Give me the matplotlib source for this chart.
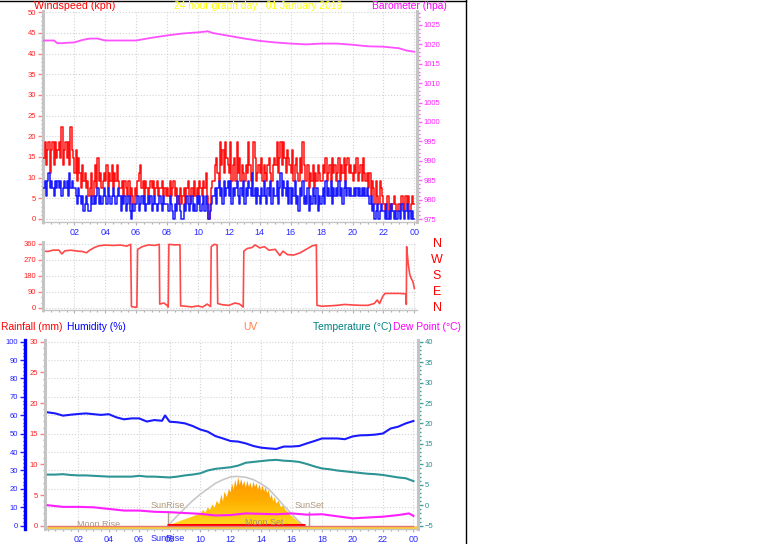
import numpy as np
import matplotlib
matplotlib.use("Agg")
import matplotlib.pyplot as plt
import matplotlib.transforms as mtransforms
from matplotlib.lines import Line2D
from matplotlib.ticker import MultipleLocator
from matplotlib.colors import LinearSegmentedColormap

plt.rcParams["font.family"] = ["Liberation Sans", "DejaVu Sans"]

W, H = 761, 544
KT_TO_KPH = 1.852

# ------------------------------------------------------------------
# wind speed, 5 minute samples (knots, station resolution)
# ------------------------------------------------------------------
gust_kt = [
    8, 10, 7, 9, 10, 6, 9, 10, 7, 10, 8, 9,
    10, 8, 12, 7, 9, 10, 8, 10, 7, 12, 9, 8,
    6, 9, 5, 8, 6, 4, 7, 5, 6, 4, 5, 3,
    4, 6, 3, 5, 7, 4, 8, 5, 6, 4, 5, 6,
    5, 7, 4, 6, 5, 7, 4, 6, 5, 7, 5, 4,
    4, 5, 3, 5, 4, 3, 5, 2, 4, 3, 2, 4,
    3, 5, 6, 7, 4, 5, 3, 5, 4, 3, 4, 5,
    4, 5, 3, 4, 5, 3, 4, 4, 5, 3, 4, 3,
    4, 3, 5, 3, 4, 5, 3, 4, 2, 3, 4, 2,
    3, 4, 2, 4, 5, 3, 2, 4, 3, 5, 3, 4,
    3, 5, 4, 3, 5, 4, 6, 3, 0, 2, 4, 5,
    5, 7, 8, 6, 5, 10, 7, 9, 6, 10, 8, 7,
    6, 10, 5, 7, 8, 5, 10, 6, 8, 5, 7, 6,
    5, 7, 6, 10, 7, 5, 6, 10, 8, 5, 6, 7,
    6, 8, 5, 7, 6, 5, 7, 8, 6, 5, 7, 8,
    7, 10, 6, 8, 10, 7, 10, 8, 6, 9, 8, 7,
    6, 9, 5, 7, 8, 6, 5, 8, 6, 10, 7, 5,
    5, 7, 4, 6, 5, 7, 4, 6, 5, 7, 6, 5,
    5, 7, 6, 8, 5, 6, 7, 5, 8, 6, 7, 5,
    6, 8, 5, 7, 6, 8, 5, 7, 8, 6, 7, 6,
    5, 7, 6, 8, 5, 6, 7, 5, 8, 6, 5, 6,
    4, 6, 3, 5, 4, 2, 5, 3, 2, 5, 4, 3,
    2, 1, 2, 3, 1, 2, 1, 2, 3, 2, 1, 2,
    2, 1, 3, 2, 1, 3, 2, 3, 1, 2, 3, 2,
    2,
]
avg_kt = [
    4, 5, 3, 5, 6, 4, 5, 4, 3, 5, 4, 5,
    4, 5, 3, 4, 5, 4, 5, 3, 6, 4, 5, 4,
    4, 3, 2, 4, 3, 2, 3, 1, 2, 3, 2, 1,
    1, 3, 2, 3, 2, 3, 4, 2, 3, 2, 3, 4,
    3, 2, 4, 3, 2, 3, 4, 3, 2, 3, 4, 3,
    1, 3, 2, 3, 1, 2, 3, 1, 0, 2, 1, 2,
    2, 3, 1, 2, 3, 2, 3, 1, 2, 3, 2, 3,
    1, 2, 3, 2, 1, 2, 3, 2, 1, 3, 2, 2,
    2, 1, 3, 2, 1, 0, 2, 1, 3, 2, 1, 0,
    0, 2, 1, 3, 2, 1, 2, 3, 1, 2, 1, 3,
    2, 3, 1, 2, 3, 1, 3, 2, 0, 1, 2, 3,
    3, 4, 2, 4, 5, 3, 4, 2, 5, 3, 4, 5,
    3, 5, 2, 4, 3, 4, 5, 3, 2, 4, 3, 5,
    2, 4, 3, 5, 4, 3, 6, 3, 4, 2, 4, 3,
    2, 4, 3, 5, 3, 2, 4, 3, 5, 2, 4, 3,
    3, 5, 2, 4, 6, 3, 5, 4, 3, 5, 2, 4,
    2, 4, 3, 5, 2, 3, 1, 4, 3, 5, 2, 3,
    2, 4, 1, 3, 2, 4, 3, 2, 4, 1, 3, 2,
    3, 4, 2, 5, 3, 4, 3, 5, 2, 4, 3, 4,
    3, 5, 3, 4, 2, 4, 5, 3, 4, 3, 4, 3,
    3, 4, 3, 4, 3, 4, 3, 4, 3, 4, 3, 4,
    3, 2, 3, 1, 2, 0, 1, 2, 0, 1, 2, 1,
    1, 0, 2, 0, 1, 0, 2, 1, 0, 1, 0, 1,
    1, 0, 2, 1, 0, 1, 2, 0, 1, 0, 1, 0,
    0,
]

baro_t = [0, 0.7, 0.9, 1.2, 1.5, 2, 2.5, 3, 3.5, 4, 5, 6, 7, 8, 9, 10, 10.5,
          10.6, 11, 12, 13, 14, 15, 16, 17, 18, 19, 20, 21, 22, 23, 23.5, 24]
baro_hpa = [1021.0, 1021.0, 1020.3, 1020.3, 1020.4, 1020.5, 1021.1, 1021.5,
            1021.5, 1021.0, 1021.0, 1021.0, 1021.7, 1022.3, 1022.8, 1023.1,
            1023.3, 1023.4, 1022.9, 1022.2, 1021.5, 1020.9, 1020.5, 1020.2,
            1020.0, 1020.2, 1020.2, 1019.9, 1019.5, 1019.4, 1019.0, 1018.4,
            1018.1]

dir_t = [0.0, 0.3, 0.6, 1.0, 1.2, 1.4, 1.8, 2.2, 2.5, 2.8, 3.0, 3.3, 3.6,
         4.0, 4.5, 5.0, 5.4, 5.65, 5.7, 5.9, 6.05, 6.1, 6.4, 6.8, 7.2, 7.5,
         7.53, 7.8, 8.0, 8.08, 8.12, 8.5, 8.84, 8.88, 9.2, 9.6, 10.0, 10.3,
         10.6, 10.82, 10.86, 11.05, 11.24, 11.28, 11.6, 12.0, 12.4, 12.7,
         12.93, 12.97, 13.2, 13.5, 13.7, 14.0, 14.3, 14.6, 15.0, 15.3, 15.5,
         15.8, 16.2, 16.6, 17.0, 17.4, 17.66, 17.7, 18.0, 18.5, 19.0, 19.5,
         20.0, 20.5, 21.0, 21.4, 21.6, 21.75, 21.95, 22.1, 22.5, 23.0, 23.45,
         23.48, 23.5, 23.6, 23.7, 23.8, 23.9, 24.0]
dir_deg = [320, 318, 325, 326, 304, 322, 325, 320, 318, 311, 325, 340, 350,
           354, 352, 354, 348, 358, 8, 5, 4, 330, 345, 355, 352, 358,
           22, 28, 15, 5, 358, 355, 356, 12, 10, 6, 12, 5,
           22, 8, 345, 358, 355, 25, 18, 15, 28, 22,
           5, 320, 335, 340, 355, 338, 345, 325, 330, 295, 320,
           300, 298, 310, 330, 350, 355, 15, 10, 12, 15, 20,
           17, 15, 15, 25, 45, 25, 65, 82, 82, 82, 80,
           20, 345, 250, 190, 165, 150, 110]
dir_letters = ["N", "W", "S", "E", "N"]
dir_letter_deg = [360, 270, 180, 90, 0]

# ------------------------------------------------------------------
# bottom panel
# ------------------------------------------------------------------
hum_t = [0, 0.5, 1, 1.5, 2, 2.5, 3, 3.5, 4, 4.5, 5, 5.5, 6, 6.5, 7, 7.5,
         7.7, 8, 8.5, 9, 9.5, 10, 10.5, 11, 11.5, 12, 12.5, 13, 13.5, 14,
         14.5, 15, 15.5, 16, 16.5, 17, 17.5, 18, 18.5, 19, 19.5, 20, 20.5,
         21, 21.5, 22, 22.5, 23, 23.5, 24]
hum_pct = [61.6, 61.0, 59.8, 60.3, 60.7, 61.0, 60.6, 60.2, 60.6, 58.9, 57.8,
           58.3, 58.3, 56.6, 57.4, 57.0, 59.9, 56.5, 56.2, 55.6, 54.2, 52.3,
           51.1, 48.7, 47.4, 46.0, 45.7, 44.7, 43.3, 42.4, 42.0, 41.7, 43.0,
           43.0, 43.3, 44.7, 46.0, 47.4, 47.4, 47.4, 47.0, 48.5, 49.1, 49.2,
           49.5, 50.1, 52.8, 53.8, 55.6, 56.9]

temp_t = [0, 0.5, 1, 1.5, 2, 2.5, 3, 3.5, 4, 4.5, 5, 5.5, 6, 6.5, 7, 7.5, 8,
          8.5, 9, 9.5, 10, 10.5, 11, 11.5, 12, 12.5, 13, 13.5, 14, 14.5, 15,
          15.5, 16, 16.5, 17, 17.5, 18, 18.5, 19, 19.5, 20, 20.5, 21, 21.5,
          22, 22.5, 23, 23.5, 24]
temp_c = [7.5, 7.5, 7.6, 7.4, 7.3, 7.3, 7.2, 7.1, 7.0, 7.0, 7.0, 7.0, 7.2,
          7.0, 7.0, 6.9, 6.8, 7.0, 7.3, 7.5, 7.8, 8.5, 8.9, 9.1, 9.3, 9.7,
          10.4, 10.6, 10.8, 11.0, 11.1, 10.9, 10.8, 10.6, 10.1, 9.5, 9.0,
          8.8, 8.5, 8.3, 8.1, 7.9, 7.7, 7.6, 7.4, 7.1, 6.8, 6.6, 5.9]

dew_t = [0, 1, 2, 3, 4, 5, 6, 7, 8, 9, 10, 11, 12, 13, 14, 15, 16, 17, 18,
         19, 20, 21, 22, 23, 23.7, 24]
dew_c = [0.0, -0.4, -0.4, -0.5, -0.9, -1.3, -1.3, -1.6, -1.7, -1.9, -2.1,
         -2.5, -2.4, -2.0, -2.1, -2.2, -2.0, -2.3, -2.2, -2.7, -3.2, -3.0,
         -2.8, -2.4, -2.0, -2.6]

# solar / UV profile, drawn against the humidity scale (no own axis)
solar_t = [7.85, 8.0, 8.25, 8.5, 8.75, 9.0, 9.25, 9.5, 9.75, 10.0, 10.2,
           10.35, 10.5, 10.65, 10.8, 10.95, 11.1, 11.25, 11.4, 11.5, 11.6,
           11.75, 11.9, 12.0, 12.1, 12.2, 12.3, 12.4, 12.5, 12.6, 12.7, 12.8,
           12.9, 13.0, 13.1, 13.2, 13.3, 13.4, 13.5, 13.6, 13.7, 13.8, 13.9,
           14.0, 14.1, 14.2, 14.3, 14.4, 14.5, 14.6, 14.7, 14.8, 14.9, 15.0,
           15.15, 15.3, 15.45, 15.6, 15.75, 15.9, 16.05, 16.2, 16.35, 16.5,
           16.65, 16.8, 16.9]
solar_v = [0, 0.5, 1.2, 2.0, 2.8, 3.5, 4.2, 5.0, 5.8, 6.5, 8.5, 7.0, 10.0,
           8.5, 11.5, 9.8, 13.5, 11.5, 17.0, 13.0, 18.5, 15.5, 20.0, 18.0,
           23.0, 19.5, 25.0, 21.0, 26.5, 22.0, 25.5, 21.5, 24.5, 20.5, 24.5,
           21.0, 23.5, 20.0, 24.0, 21.0, 23.0, 19.5, 22.5, 19.0, 22.0, 18.5,
           21.0, 17.5, 19.5, 15.0, 17.0, 13.0, 15.5, 12.0, 13.5, 10.0, 11.0,
           8.5, 7.5, 6.0, 5.0, 3.8, 2.8, 1.8, 1.0, 0.3, 0]

arc_t = [7.9, 8.4, 9.0, 9.5, 10.0, 10.5, 11.0, 11.5, 12.0, 12.4, 13.0, 13.5,
         14.0, 14.5, 15.0, 15.5, 16.0, 16.4, 16.8]
arc_v = [0, 4.5, 9.5, 13.5, 17, 20, 23, 25, 26.5, 26.8, 26.3, 25, 22.8, 20,
         15.5, 10.8, 6.5, 3, 0]

rain_t = [0, 24]
rain_mm = [0, 0]

sunrise, sunset = 7.87, 17.15
moonrise, moonset = 3.34, 14.2
hour_ticks = list(range(2, 25, 2))
hour_labels = ["%02d" % (h % 24) for h in hour_ticks]

# ------------------------------------------------------------------
GRID = dict(color="#d4d4d4", linestyle=":", linewidth=0.8)
SPINE = "#c4c4c4"
XLAB = "#2828ff"
HEAD = 7.4


def fx(x):
    return x / W


def fy(y):
    return 1 - y / H


def box(l, t, r, b):
    return [fx(l), fy(b), (r - l) / W, (b - t) / H]


def style_x(ax, labels=True):
    ax.set_xticks(hour_ticks)
    ax.set_xticklabels(hour_labels if labels else [])
    ax.xaxis.set_minor_locator(MultipleLocator(0.5))
    ax.tick_params(axis="x", which="both", color="#b0b0b0", width=0.8,
                   labelcolor=XLAB, labelsize=6.5, pad=2)
    ax.tick_params(axis="x", which="major", length=2.5)
    ax.tick_params(axis="x", which="minor", length=1.5)
    ax.xaxis.grid(True, which="major", **GRID)
    for s in ("top", "right"):
        ax.spines[s].set_visible(False)
    ax.spines["bottom"].set_color(SPINE)
    ax.spines["left"].set_color(SPINE)
    ax.spines["left"].set_linewidth(2.2)
    ax.spines["bottom"].set_linewidth(1.0)


def style_y(ax, tick_col, lab_col, side="left"):
    ax.yaxis.set_ticks_position(side)
    ax.tick_params(axis="y", which="both", color=tick_col, width=1.0,
                   labelcolor=lab_col, labelsize=5.5, pad=1.5)
    ax.tick_params(axis="y", which="major", length=3.5)
    ax.tick_params(axis="y", which="minor", length=1.8)


fig = plt.figure(figsize=(W / 100, H / 100), dpi=100)
fig.patch.set_facecolor("white")

# ---------------- top: wind speed + barometer ----------------
ax_w = fig.add_axes(box(43, 11, 417, 222))
t_w = np.arange(len(gust_kt)) / 12.0
ax_w.plot(t_w, np.array(gust_kt) * KT_TO_KPH, color="#ff1010", lw=1.1,
          drawstyle="steps-post", zorder=3)
ax_w.plot(t_w, np.array(avg_kt) * KT_TO_KPH, color="#1a1aff", lw=1.1,
          drawstyle="steps-post", zorder=4)
ax_w.set_xlim(-0.02, 24.17)
ax_w.set_ylim(-0.73, 50.31)
ax_w.yaxis.set_major_locator(MultipleLocator(5))
ax_w.yaxis.set_minor_locator(MultipleLocator(1))
ax_w.yaxis.grid(True, which="major", **GRID)
style_x(ax_w)
style_y(ax_w, "#ff8080", "#ff2020")

ax_b = ax_w.twinx()
ax_b.plot(baro_t, baro_hpa, color="#ff50ff", lw=1.3, zorder=3)
ax_b.set_ylim(974.23, 1028.6)
ax_b.yaxis.set_major_locator(MultipleLocator(5))
ax_b.yaxis.set_minor_locator(MultipleLocator(1))
for s in ("top", "left", "bottom"):
    ax_b.spines[s].set_visible(False)
ax_b.spines["right"].set_color(SPINE)
ax_b.spines["right"].set_linewidth(2.2)
style_y(ax_b, "#ff60ff", "#ff20ff", side="right")

# ---------------- middle: wind direction ----------------
ax_d = fig.add_axes(box(43, 242, 417, 310))
ax_d.plot(dir_t, dir_deg, color="#ff4848", lw=1.2)
ax_d.set_xlim(-0.02, 24.17)
ax_d.set_ylim(-11.25, 371.25)
ax_d.set_yticks([0, 90, 180, 270, 360])
ax_d.yaxis.set_minor_locator(MultipleLocator(30))
ax_d.yaxis.grid(True, which="major", **GRID)
style_x(ax_d, labels=False)
style_y(ax_d, "#ff8080", "#ff2020")
tr_d = mtransforms.blended_transform_factory(fig.transFigure, ax_d.transData)
for letter, deg in zip(dir_letters, dir_letter_deg):
    ax_d.text(fx(437), deg, letter, transform=tr_d, color="#ff0000",
              fontsize=9, ha="center", va="center", clip_on=False)

# ---------------- bottom: humidity / rain / temperature ----------------
ax_h = fig.add_axes(box(45, 340, 418, 529))
style_x(ax_h)
ax_h.spines["left"].set_position(("outward", 14.4))
ax_h.spines["left"].set_color("#0000ff")
ax_h.spines["left"].set_linewidth(2.4)
ax_h.yaxis.set_major_locator(MultipleLocator(10))
ax_h.yaxis.set_minor_locator(MultipleLocator(2))
ax_h.yaxis.grid(True, which="major", **GRID)
style_y(ax_h, "#2020ff", "#2020ff")

# strip under the zero line
ax_h.axhspan(-1.8, 0, color="#ffd030", lw=0, zorder=1)

# UV / solar gradient fill
uv_cmap = LinearSegmentedColormap.from_list("uv", ["#ffdc20", "#ffb000", "#ff9400"])
grad = np.linspace(0, 1, 256).reshape(-1, 1)
im = ax_h.imshow(grad, extent=[solar_t[0], solar_t[-1], 0, max(solar_v)],
                 origin="lower", aspect="auto", cmap=uv_cmap, zorder=2)
poly = ax_h.fill_between(solar_t, 0, solar_v, color="none", lw=0)
im.set_clip_path(poly.get_paths()[0], transform=ax_h.transData)
ax_h.plot(arc_t, arc_v, color="#c8c8c8", lw=1.2, zorder=3)

ax_h.plot(hum_t, hum_pct, color="#1a1aff", lw=1.5, zorder=5)

for x0, lab in ((sunrise, "SunRise"), (sunset, "SunSet")):
    ax_h.plot([x0, x0], [0, 7.4], color="#b0a08c", lw=1.0, zorder=3)
    ax_h.text(x0, 10.9, lab, color="#b0987c", fontsize=6.5,
              ha="center", va="center", zorder=6)
ax_h.text(moonrise, 0.9, "Moon Rise", color="#a89888", fontsize=6.5,
          ha="center", va="center", zorder=6)
ax_h.text(moonset, 2.0, "Moon Set", color="#a89070", fontsize=6.5,
          ha="center", va="center", zorder=6)
ax_h.plot([solar_t[0], solar_t[-1]], [0.4, 0.4], color="#ff0000", lw=2.2,
          zorder=4, solid_capstyle="butt")

tr_hx = mtransforms.blended_transform_factory(ax_h.transData, fig.transFigure)
ax_h.text(sunrise, fy(538.5), "SunRise", transform=tr_hx, color=XLAB,
          fontsize=6.5, ha="center", va="center", clip_on=False)

ax_h.set_xlim(-0.18, 24.3)
ax_h.set_ylim(-1.8, 100.9)

ax_r = ax_h.twinx()
ax_r.plot(rain_t, rain_mm, color="#e07878", lw=1.0, zorder=3)
ax_r.set_ylim(-0.54, 30.28)
ax_r.yaxis.set_major_locator(MultipleLocator(5))
ax_r.yaxis.set_minor_locator(MultipleLocator(1))
for s in ("top", "right", "bottom"):
    ax_r.spines[s].set_visible(False)
ax_r.spines["left"].set_visible(True)
ax_r.spines["left"].set_color(SPINE)
ax_r.spines["left"].set_linewidth(2.2)
style_y(ax_r, "#ff8080", "#ff2020", side="left")

ax_t = ax_h.twinx()
ax_t.plot(temp_t, temp_c, color="#2e9494", lw=1.5, zorder=4)
ax_t.plot(dew_t, dew_c, color="#ff20ff", lw=1.5, zorder=4)
ax_t.set_ylim(-5.81, 40.42)
ax_t.yaxis.set_major_locator(MultipleLocator(5))
ax_t.yaxis.set_minor_locator(MultipleLocator(1))
for s in ("top", "left", "bottom"):
    ax_t.spines[s].set_visible(False)
ax_t.spines["right"].set_color(SPINE)
ax_t.spines["right"].set_linewidth(2.2)
style_y(ax_t, "#40a0a0", "#2a9090", side="right")

# ---------------- headings ----------------
fig.text(fx(34), fy(6), "Windspeed (kph)", color="#ff0000", fontsize=7.7,
         ha="left", va="center")
fig.text(fx(258), fy(6), "24 hour graph day : 01 January 2019",
         color="#ffff00", fontsize=HEAD, ha="center", va="center")
fig.text(fx(447), fy(6), "Barometer (hpa)", color="#ff00ff", fontsize=HEAD,
         ha="right", va="center")
fig.text(fx(1), fy(327), "Rainfall (mm)", color="#ff0000", fontsize=HEAD,
         ha="left", va="center")
fig.text(fx(67), fy(327), "Humidity (%)", color="#0000ff", fontsize=HEAD,
         ha="left", va="center")
fig.text(fx(250), fy(327), "UV", color="#ff8040", fontsize=HEAD,
         ha="center", va="center")
fig.text(fx(313), fy(327), "Temperature (\u00b0C)", color="#008080",
         fontsize=HEAD, ha="left", va="center")
fig.text(fx(393), fy(327), "Dew Point (\u00b0C)", color="#ff00ff",
         fontsize=HEAD, ha="left", va="center")

# black frame of the graphic
fig.add_artist(Line2D([0, fx(466)], [fy(0.5), fy(0.5)], color="black", lw=1))
fig.add_artist(Line2D([fx(466), fx(466)], [0, 1], color="black", lw=1))

fig.savefig("out.png", dpi=100)
